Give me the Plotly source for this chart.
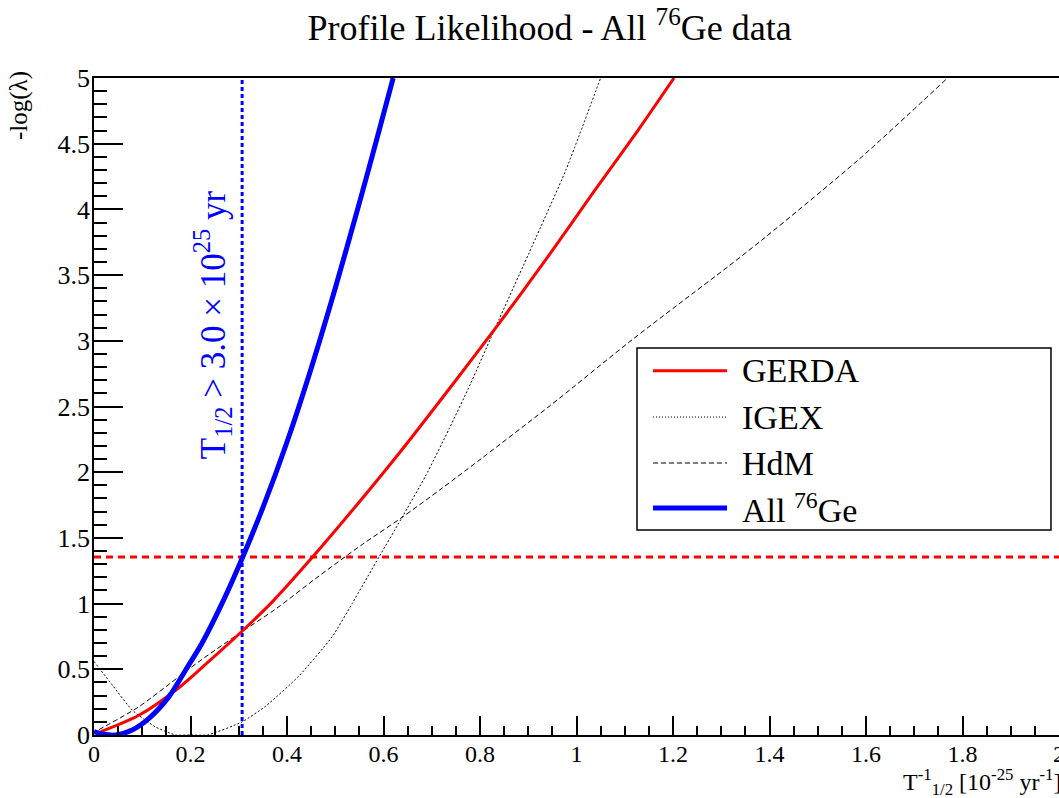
import plotly.graph_objects as go

# ---------------- data ----------------
gerda_x = [0.014, 0.093, 0.176, 0.238, 0.304, 0.37, 0.452, 0.549, 0.639, 0.75, 0.833, 0.936, 1.033, 1.13, 1.202]
gerda_y = [0.025, 0.15, 0.36, 0.56, 0.78, 1.015, 1.35, 1.77, 2.175, 2.70, 3.10, 3.615, 4.12, 4.615, 5.0]

igex_x = [0.0, 0.04, 0.079, 0.128, 0.169, 0.20, 0.235, 0.307, 0.356, 0.425, 0.494, 0.535, 0.591, 0.636, 0.687, 0.736, 0.78, 0.833, 0.908, 0.978, 1.05]
igex_y = [0.56, 0.37, 0.19, 0.06, 0.0, 0.0, 0.0, 0.10, 0.22, 0.45, 0.75, 1.0, 1.357, 1.64, 1.97, 2.33, 2.67, 3.11, 3.72, 4.30, 5.0]

hdm_x = [0.01, 0.093, 0.155, 0.218, 0.30, 0.377, 0.459, 0.556, 0.636, 0.722, 0.805, 0.943, 1.116, 1.212, 1.316, 1.392, 1.585, 1.769]
hdm_y = [0.04, 0.215, 0.385, 0.56, 0.77, 0.96, 1.19, 1.45, 1.65, 1.88, 2.11, 2.50, 3.01, 3.28, 3.57, 3.79, 4.38, 5.0]

all_x = [0.0, 0.02, 0.045, 0.079, 0.114, 0.155, 0.19, 0.224, 0.269, 0.31, 0.35, 0.40, 0.45, 0.50, 0.55, 0.585, 0.62]
all_y = [0.025, 0.005, 0.0, 0.038, 0.127, 0.29, 0.495, 0.70, 1.03, 1.37, 1.73, 2.23, 2.79, 3.40, 4.05, 4.52, 5.0]

limit_level = 1.355      # -log(lambda) for the 90% C.L.
limit_x = 0.307          # T^-1 limit
x_range = [0.0, 2.0]
y_range = [0.0, 5.0]

legend_names = ["GERDA", "IGEX", "HdM", "All <sup>76</sup>Ge"]

SERIF = "Liberation Serif"
RED = "#ff0000"
BLUE = "#0000ff"

fig = go.Figure()

fig.add_trace(go.Scatter(x=x_range, y=[limit_level, limit_level], mode="lines",
                         line=dict(color=RED, width=3, dash="7px,5px"), showlegend=False, hoverinfo="skip"))
fig.add_trace(go.Scatter(x=[limit_x, limit_x], y=y_range, mode="lines",
                         line=dict(color=BLUE, width=3, dash="4px,3px"), showlegend=False, hoverinfo="skip"))

fig.add_trace(go.Scatter(x=igex_x, y=igex_y, mode="lines", name="IGEX",
                         line=dict(color="black", width=1, dash="2px,2px", shape="spline", smoothing=0.5),
                         showlegend=False))
fig.add_trace(go.Scatter(x=hdm_x, y=hdm_y, mode="lines", name="HdM",
                         line=dict(color="black", width=1, dash="5px,3px", shape="spline", smoothing=0.8),
                         showlegend=False))
fig.add_trace(go.Scatter(x=gerda_x, y=gerda_y, mode="lines", name="GERDA",
                         line=dict(color=RED, width=3, shape="spline", smoothing=0.8), showlegend=False))
fig.add_trace(go.Scatter(x=all_x, y=all_y, mode="lines", name="All 76Ge",
                         line=dict(color=BLUE, width=5, shape="spline", smoothing=0.8), showlegend=False))

# ---------------- custom legend (ROOT TLegend look) ----------------
leg_x0, leg_x1, leg_y0, leg_y1 = 0.5627, 0.9917, 0.312, 0.589
fig.add_shape(type="rect", xref="paper", yref="paper", x0=leg_x0, x1=leg_x1, y0=leg_y0, y1=leg_y1,
              line=dict(color="black", width=1.5), fillcolor="white", layer="above")
row_y = [0.5545, 0.4840, 0.4140, 0.3455]
styles = [dict(color=RED, width=3), dict(color="black", width=1, dash="1px,2px"),
          dict(color="black", width=1, dash="5px,3px"), dict(color=BLUE, width=5)]
for name, yy, st in zip(legend_names, row_y, styles):
    fig.add_shape(type="line", xref="paper", yref="paper", x0=0.5793, x1=0.6560, y0=yy, y1=yy,
                  line=st, layer="above")
    fig.add_annotation(xref="paper", yref="paper", x=0.6694, y=yy, xanchor="left", yanchor="middle",
                       text=name, showarrow=False, font=dict(family=SERIF, size=34, color="black"))

# ---------------- texts ----------------
fig.add_annotation(xref="x", yref="y", x=0.245, y=3.12, textangle=-90,
                   text="T<sub>1/2</sub> > 3.0 × 10<sup>25</sup> yr", showarrow=False,
                   font=dict(family=SERIF, size=35, color=BLUE))
fig.add_annotation(xref="paper", yref="paper", x=1.004, y=-0.072, xanchor="right", yanchor="middle",
                   text="T<sup>-1</sup><sub>1/2</sub> [10<sup>-25</sup> yr<sup>-1</sup>]", showarrow=False,
                   font=dict(family=SERIF, size=24, color="black"))
fig.add_annotation(xref="paper", yref="paper", x=-0.077, y=1.014, xanchor="center", yanchor="top",
                   textangle=-90, text="-log(λ)", showarrow=False,
                   font=dict(family=SERIF, size=25, color="black"))

fig.update_layout(
    template="none",
    width=1059, height=798,
    margin=dict(l=94, r=0, t=78, b=63, pad=0),
    paper_bgcolor="white", plot_bgcolor="white",
    showlegend=False,
    title=dict(text="Profile Likelihood - All <sup>76</sup>Ge data", x=0.519, xref="container",
               xanchor="center", y=0.966, yref="container", yanchor="middle",
               font=dict(family=SERIF, size=36, color="black")),
)
fig.update_xaxes(range=x_range, dtick=0.2, tick0=0, showgrid=False, zeroline=False,
                 showline=True, linecolor="black", linewidth=1.5, mirror=True,
                 ticks="inside", ticklen=19, tickwidth=1.5, tickcolor="black",
                 minor=dict(dtick=0.05, ticks="inside", ticklen=9, tickwidth=1.5, tickcolor="black"),
                 tickfont=dict(family=SERIF, size=24, color="black"), automargin=False,
                 ticklabelstandoff=-4, ticklabeloverflow="allow")
fig.update_yaxes(range=y_range, dtick=0.5, tick0=0, showgrid=False, zeroline=False,
                 showline=True, linecolor="black", linewidth=1.5,
                 ticks="inside", ticklen=29, tickwidth=1.5, tickcolor="black",
                 minor=dict(dtick=0.1, ticks="inside", ticklen=13, tickwidth=1.5, tickcolor="black"),
                 tickfont=dict(family=SERIF, size=26, color="black"), automargin=False,
                 ticklabelstandoff=-3)

fig.write_html("out.html", config={"displayModeBar": False},
               post_script="document.body.style.margin='0';document.body.style.overflow='hidden';")
